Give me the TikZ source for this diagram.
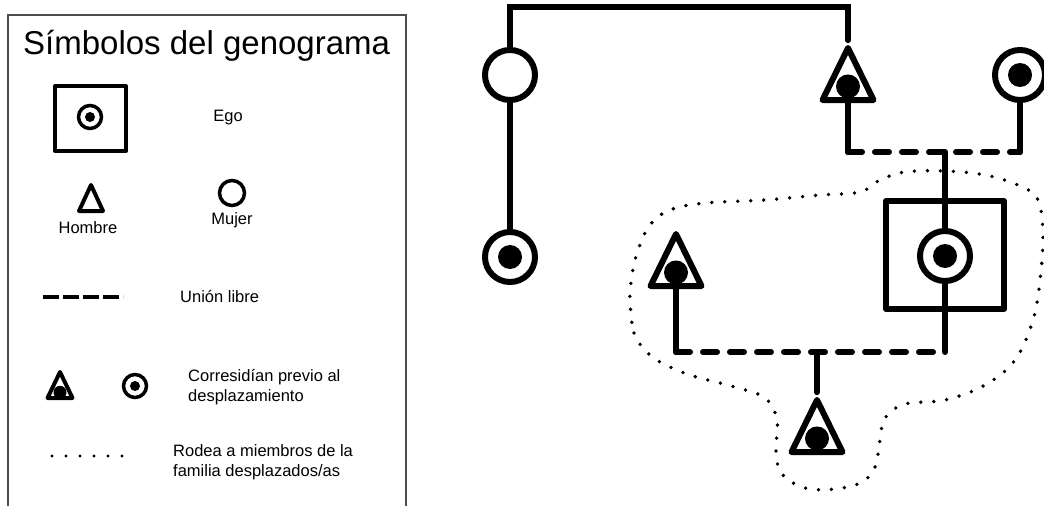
\documentclass[tikz,border=0pt]{standalone}
\usepackage{fontspec}
\setmainfont{Liberation Sans}
\usetikzlibrary{shapes.geometric,positioning,calc}

\begin{document}
\begin{tikzpicture}[x=1pt, y=-1pt,
    linea/.style={line width=6pt, line cap=round},
    union/.style={line width=6pt, line cap=round, dash pattern=on 14pt off 13pt},
    rodea/.style={line width=3.8pt, line cap=round, dash pattern=on 0pt off 13pt},
    mujer/.style={circle, draw, line width=6pt, minimum size=50pt, inner sep=0pt},
    mujerp/.style={mujer, path picture={\fill (path picture bounding box.center) circle (12pt);}},
    hombrep/.style={isosceles triangle, shape border rotate=90, isosceles triangle stretches,
        draw, line width=6pt, line join=round, minimum width=51pt, minimum height=52pt, inner sep=0pt,
        anchor=lower side,
        path picture={\fill ($(path picture bounding box.north)!0.74!(path picture bounding box.south)$) circle (12pt);}},
    egobox/.style={rectangle, draw, line width=6pt, line join=round, minimum width=118pt, minimum height=108pt, inner sep=0pt},
    leyenda/.style={font=\fontsize{16.5}{20}\selectfont, align=left, inner sep=0pt},
]
\useasboundingbox (0,0) rectangle (1044,506);

% leyenda
\draw[gray!60!black, line width=1.5pt] (8,506) -- (8,15) -- (406,15) -- (406,506);
\node[font=\fontsize{33}{38}\selectfont, anchor=base west, inner sep=0pt] (titulo) at (23,54) {Símbolos del genograma};

\node[egobox, line width=4pt, minimum width=71pt, minimum height=65pt] (legego) at (90.5,118.5) {};
\node[mujer, line width=3.5pt, minimum size=23pt,
      path picture={\fill (path picture bounding box.center) circle (5pt);}] (legegoc) at (90,117) {};
\node[leyenda] (tego) at (228,118) {Ego};

\node[isosceles triangle, shape border rotate=90, isosceles triangle stretches, draw,
      line width=4pt, line join=round, minimum width=24pt, minimum height=26pt, inner sep=0pt,
      anchor=lower side] (leghombre) at (91,213) {};
\node[leyenda] (thombre) at (88,228) {Hombre};
\node[mujer, line width=3.5pt, minimum size=25pt] (legmujer) at (232,193) {};
\node[leyenda] (tmujer) at (232,220) {Mujer};

\coordinate (lu1) at (43,297);
\coordinate (lu2) at (123,297);
\draw[line width=4.5pt, dash pattern=on 16pt off 4pt] (lu1) -- (lu2);
\node[leyenda, anchor=west] (tunion) at (180,297) {Unión libre};

\node[isosceles triangle, shape border rotate=90, isosceles triangle stretches, draw,
      line width=4pt, line join=round, minimum width=25pt, minimum height=26pt, inner sep=0pt,
      anchor=lower side,
      path picture={\fill ($(path picture bounding box.north)!0.78!(path picture bounding box.south)$) circle (6.5pt);}] (legcorr1) at (60,400) {};
\node[mujer, line width=3.5pt, minimum size=23pt,
      path picture={\fill (path picture bounding box.center) circle (5pt);}] (legcorr2) at (135,386) {};
\node[leyenda, anchor=west] (tcorr) at (188,387) {Corresidían previo al\\desplazamiento};

\coordinate (lr1) at (52,456);
\coordinate (lr2) at (124,456);
\draw[rodea, line width=3.2pt, dash pattern=on 0pt off 14pt] (lr1) -- (lr2);
\node[leyenda, anchor=west] (trodea) at (173,462) {Rodea a miembros de la\\familia desplazados/as};

% genograma
\node[mujer] (tia) at (510,75) {};
\node[mujerp] (prima) at (510,257) {};
\node[hombrep] (padre) at (848,103) {};
\node[mujerp] (madre) at (1020,75) {};
\node[egobox] (egocaja) at (945,255) {};
\node[mujerp] (ego) at (945,256) {};
\node[hombrep] (pareja) at (676,289) {};
\node[hombrep] (hijo) at (817,455) {};

\coordinate (u1) at (945,152);
\coordinate (u2) at (817,352);

\draw[linea] (tia.north) -- ++(0,-40) -| (padre.apex);
\draw[linea] (tia.south) -- (prima.north);
\draw[linea] (padre.lower side) -- (padre.lower side |- u1);
\draw[linea] (madre.south) -- (madre.south |- u1);
\draw[union] (padre.lower side |- u1) -- (madre.south |- u1);
\draw[linea] (u1) -- (ego.north);
\draw[linea] (ego.south) -- (ego.south |- u2);
\draw[linea] (pareja.lower side) -- (pareja.lower side |- u2);
\draw[union] (pareja.lower side |- u2) -- (ego.south |- u2);
\draw[linea] (u2) -- (hijo.apex);

\draw[rodea] plot[smooth cycle, tension=0.6] coordinates {
    (630,300) (634,333) (645,350) (660,362) (690,375) (735,387) (765,398) (777,420)
    (776,452) (782,474) (805,488) (835,489) (862,482) (875,467) (880,440) (885,418)
    (905,404) (945,400) (985,385) (1015,360) (1033,320) (1040,280) (1043,235) (1038,200)
    (1020,186) (985,175) (945,171) (905,172) (880,180) (860,192) (820,195) (765,200)
    (705,203) (670,210) (650,225) (638,250) (632,275)};

\end{tikzpicture}
\end{document}
